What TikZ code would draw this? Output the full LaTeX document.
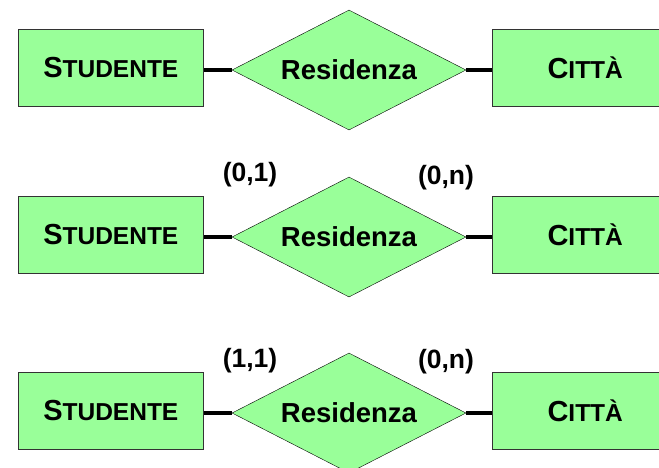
\documentclass[tikz,border=0pt]{standalone}
\usepackage{fontspec}
\setmainfont{Liberation Sans}
\definecolor{verde}{RGB}{153, 255, 153}
\definecolor{bordo}{RGB}{51, 51, 51}
\usetikzlibrary{positioning}
\usetikzlibrary{shapes.geometric}

\newcommand{\ent}[2]{{\fontsize{29}{30}\selectfont #1}{\fontsize{24.5}{26}\selectfont #2}}

\tikzset{
    entita/.style={draw=bordo, line width=1pt, fill=verde, minimum width=185pt, minimum height=77pt, inner sep=0pt, font=\bfseries},
    relaz/.style={draw=black, fill=verde, diamond, minimum width=234pt, minimum height=120pt, aspect=1.95, inner sep=0pt, font=\bfseries\fontsize{27.5}{29}\selectfont},
    card/.style={font=\bfseries\fontsize{26.5}{28}\selectfont, inner sep=0pt},
    link/.style={line width=3.5pt}
}

\begin{document}
\begin{tikzpicture}[x=1pt, y=-1pt]
    \clip (0,0) rectangle (659,467);

    % Senza cardinalita
    \node[relaz] (res1) at (349,70) {Residenza};
    \node[entita] (stud1) [left=28pt of res1, yshift=2.5pt] {\ent{S}{TUDENTE}};
    \node[entita] (citta1) [right=26pt of res1, yshift=2.5pt] {\ent{C}{ITTÀ}};
    \draw[link] (stud1.east |- res1.west) -- (res1.west);
    \draw[link] (res1.east) -- (citta1.west |- res1.east);

    % Cardinalita (0,1) e (0,n)
    \node[relaz] (res2) at (349,237) {Residenza};
    \node[entita] (stud2) [left=28pt of res2, yshift=2.5pt] {\ent{S}{TUDENTE}};
    \node[entita] (citta2) [right=26pt of res2, yshift=2.5pt] {\ent{C}{ITTÀ}};
    \draw[link] (stud2.east |- res2.west) -- (res2.west);
    \draw[link] (res2.east) -- (citta2.west |- res2.east);
    \node[card] (c2s) at (250,175) {(0,1)};
    \node[card] (c2c) at (446,178) {(0,n)};

    % Cardinalita (1,1) e (0,n)
    \node[relaz] (res3) at (349,413) {Residenza};
    \node[entita] (stud3) [left=28pt of res3, yshift=2.5pt] {\ent{S}{TUDENTE}};
    \node[entita] (citta3) [right=26pt of res3, yshift=2.5pt] {\ent{C}{ITTÀ}};
    \draw[link] (stud3.east |- res3.west) -- (res3.west);
    \draw[link] (res3.east) -- (citta3.west |- res3.east);
    \node[card] (c3s) at (250,361) {(1,1)};
    \node[card] (c3c) at (446,362) {(0,n)};
\end{tikzpicture}
\end{document}
